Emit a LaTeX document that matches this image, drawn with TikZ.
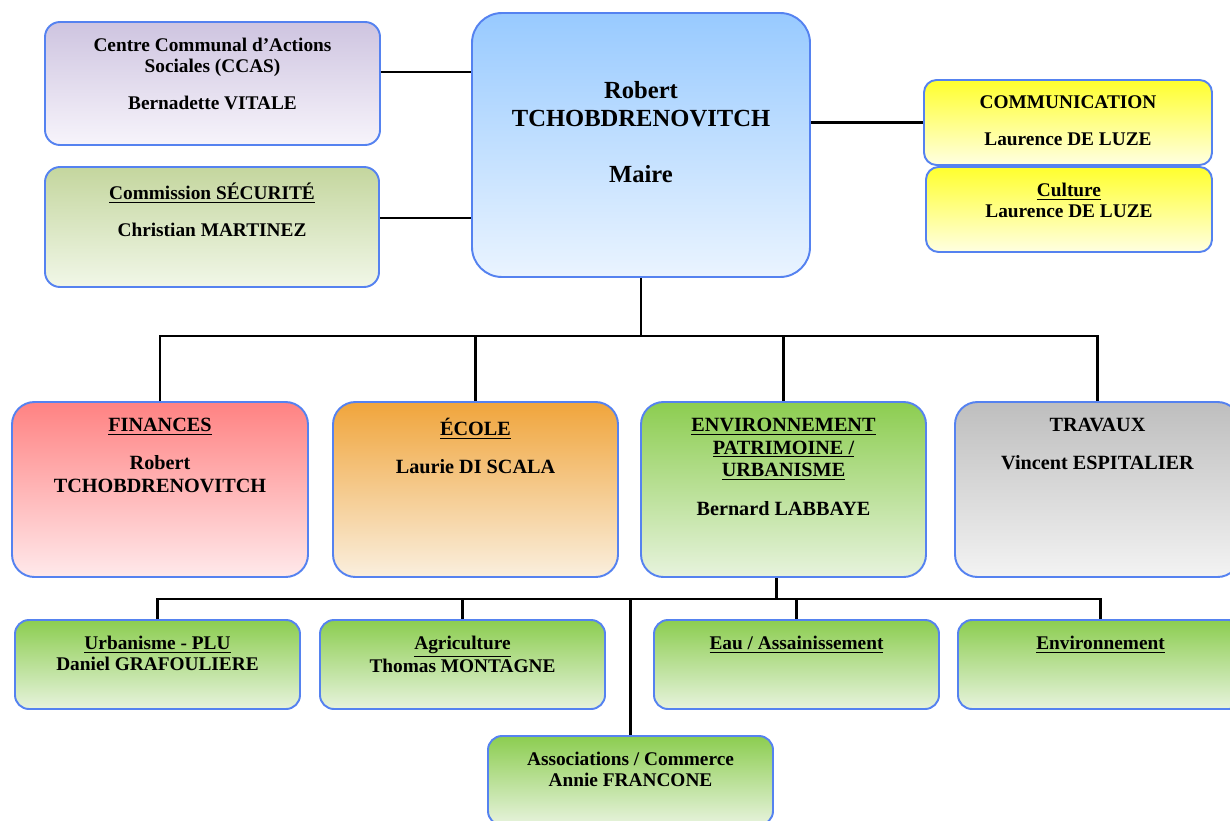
\documentclass[tikz,border=0pt]{standalone}
\usepackage{fontspec}
\setmainfont{Liberation Serif}

\definecolor{edge}{RGB}{85,130,240}
\definecolor{lilacT}{RGB}{206,196,224}
\definecolor{lilacB}{RGB}{247,244,251}
\definecolor{sageT}{RGB}{196,214,158}
\definecolor{sageB}{RGB}{241,247,232}
\definecolor{skyT}{RGB}{152,202,255}
\definecolor{skyB}{RGB}{234,244,255}
\definecolor{lemonT}{RGB}{255,255,45}
\definecolor{lemonB}{RGB}{255,255,226}
\definecolor{roseT}{RGB}{255,130,130}
\definecolor{roseB}{RGB}{255,233,235}
\definecolor{amberT}{RGB}{240,165,60}
\definecolor{amberB}{RGB}{250,239,222}
\definecolor{leafT}{RGB}{140,205,80}
\definecolor{leafB}{RGB}{231,243,221}
\definecolor{stoneT}{RGB}{190,190,190}
\definecolor{stoneB}{RGB}{243,243,243}

\tikzset{
	unit/.style n args = {3}{draw = edge, line width = 1.1pt, inner sep = 0pt,
		minimum width = #1*0.02cm, minimum height = #2*0.02cm, rounded corners = #3},
	lilac/.style = {top color = lilacT, bottom color = lilacB},
	sage/.style = {top color = sageT, bottom color = sageB},
	sky/.style = {top color = skyT, bottom color = skyB},
	lemon/.style = {top color = lemonT, bottom color = lemonB},
	rose/.style = {top color = roseT, bottom color = roseB},
	amber/.style = {top color = amberT, bottom color = amberB},
	leaf/.style = {top color = leafT, bottom color = leafB},
	stone/.style = {top color = stoneT, bottom color = stoneB},
	title/.style = {anchor = north, inner sep = 0pt, align = center,
		font = \fontsize{11}{12}\selectfont\bfseries},
	bigtitle/.style = {title, font = \fontsize{11.5}{13}\selectfont\bfseries},
	link/.style = {line width = 1.6pt, black},
}

\begin{document}
\begin{tikzpicture}[x = 0.02cm, y = -0.02cm]

	\useasboundingbox (0, 0) rectangle (1230, 821);

	% Mayor

	\node [unit = {338}{264}{0.6cm}, sky] (maire) at (641, 145) {};
	\node [title, font = \fontsize{14}{16}\selectfont\bfseries, below = 1.38cm] (maire-t) at (maire.north)
		{Robert\\TCHOBDRENOVITCH\\[16pt]Maire};

	% Left column

	\node [unit = {335}{123}{0.3cm}, lilac] (ccas) at (212.5, 83.5) {};
	\node [title, below = 0.33cm] (ccas-t) at (ccas.north)
		{Centre Communal d'Actions\\Sociales (CCAS)\\[9pt]Bernadette VITALE};

	\node [unit = {334}{120}{0.3cm}, sage] (secu) at (212, 227) {};
	\node [title, below = 0.33cm] (secu-t) at (secu.north)
		{\underline{Commission SÉCURITÉ}\\[9pt]Christian MARTINEZ};

	% Right column

	\node [unit = {288}{85}{0.25cm}, lemon] (comm) at (1068, 122.5) {};
	\node [title, below = 0.33cm] (comm-t) at (comm.north)
		{COMMUNICATION\\[9pt]Laurence DE LUZE};

	\node [unit = {286}{85}{0.25cm}, lemon] (culture) at (1069, 209.5) {};
	\node [title, below = 0.33cm] (culture-t) at (culture.north)
		{\underline{Culture}\\Laurence DE LUZE};

	% Deputies

	\node [unit = {296}{175}{0.45cm}, rose] (finances) at (160, 489.5) {};
	\node [bigtitle, below = 0.33cm] (finances-t) at (finances.north)
		{\underline{FINANCES}\\[9pt]Robert\\TCHOBDRENOVITCH};

	\node [unit = {285}{175}{0.45cm}, amber] (ecole) at (475.5, 489.5) {};
	\node [bigtitle, below = 0.33cm] (ecole-t) at (ecole.north)
		{\underline{ÉCOLE}\\[9pt]Laurie DI SCALA};

	\node [unit = {285}{175}{0.45cm}, leaf] (env) at (783.5, 489.5) {};
	\node [bigtitle, below = 0.33cm] (env-t) at (env.north)
		{\underline{ENVIRONNEMENT}\\\underline{PATRIMOINE /}\\\underline{URBANISME}\\[9pt]Bernard LABBAYE};

	\node [unit = {285}{175}{0.45cm}, stone] (travaux) at (1097.5, 489.5) {};
	\node [bigtitle, below = 0.33cm] (travaux-t) at (travaux.north)
		{TRAVAUX\\[9pt]Vincent ESPITALIER};

	% Environment delegates

	\node [unit = {285}{89}{0.28cm}, leaf] (plu) at (157.5, 664.5) {};
	\node [title, below = 0.33cm] (plu-t) at (plu.north)
		{\underline{Urbanisme - PLU}\\Daniel GRAFOULIERE};

	\node [unit = {285}{89}{0.28cm}, leaf] (agri) at (462.5, 664.5) {};
	\node [title, below = 0.33cm] (agri-t) at (agri.north)
		{\underline{Agriculture}\\Thomas MONTAGNE};

	\node [unit = {285}{89}{0.28cm}, leaf] (eau) at (796.5, 664.5) {};
	\node [title, below = 0.33cm] (eau-t) at (eau.north)
		{\underline{Eau / Assainissement}};

	\node [unit = {285}{89}{0.28cm}, leaf] (milieu) at (1100.5, 664.5) {};
	\node [title, below = 0.33cm] (milieu-t) at (milieu.north)
		{\underline{Environnement}};

	\node [unit = {285}{89}{0.28cm}, leaf] (assoc) at (630.5, 780.5) {};
	\node [title, below = 0.33cm] (assoc-t) at (assoc.north)
		{Associations / Commerce\\Annie FRANCONE};

	% Side links

	\draw [link] ([yshift = 0.23cm]ccas.east) -- ([yshift = 0.23cm]ccas.east -| maire.west);
	\draw [link] ([yshift = 0.18cm]secu.east) -- ([yshift = 0.18cm]secu.east -| maire.west);
	\draw [link] (comm.west) -- (comm.west -| maire.east);

	% Tree under the mayor

	\coordinate (bus) at (0, 336);
	\draw [link] (maire.south) -- (maire.south |- bus);
	\draw [link] (finances.north) |- (bus -| travaux.north) -- (travaux.north);
	\foreach \n in {ecole, env}
		\draw [link] (\n.north) -- (\n.north |- bus);

	% Tree under the environment

	\coordinate (bus2) at (0, 599);
	\coordinate (envfoot) at ([xshift = -0.14cm]env.south);
	\draw [link] (envfoot) -- (envfoot |- bus2);
	\draw [link] (plu.north) |- (bus2 -| milieu.north) -- (milieu.north);
	\foreach \n in {agri, eau, assoc}
		\draw [link] (\n.north) -- (\n.north |- bus2);

\end{tikzpicture}
\end{document}
